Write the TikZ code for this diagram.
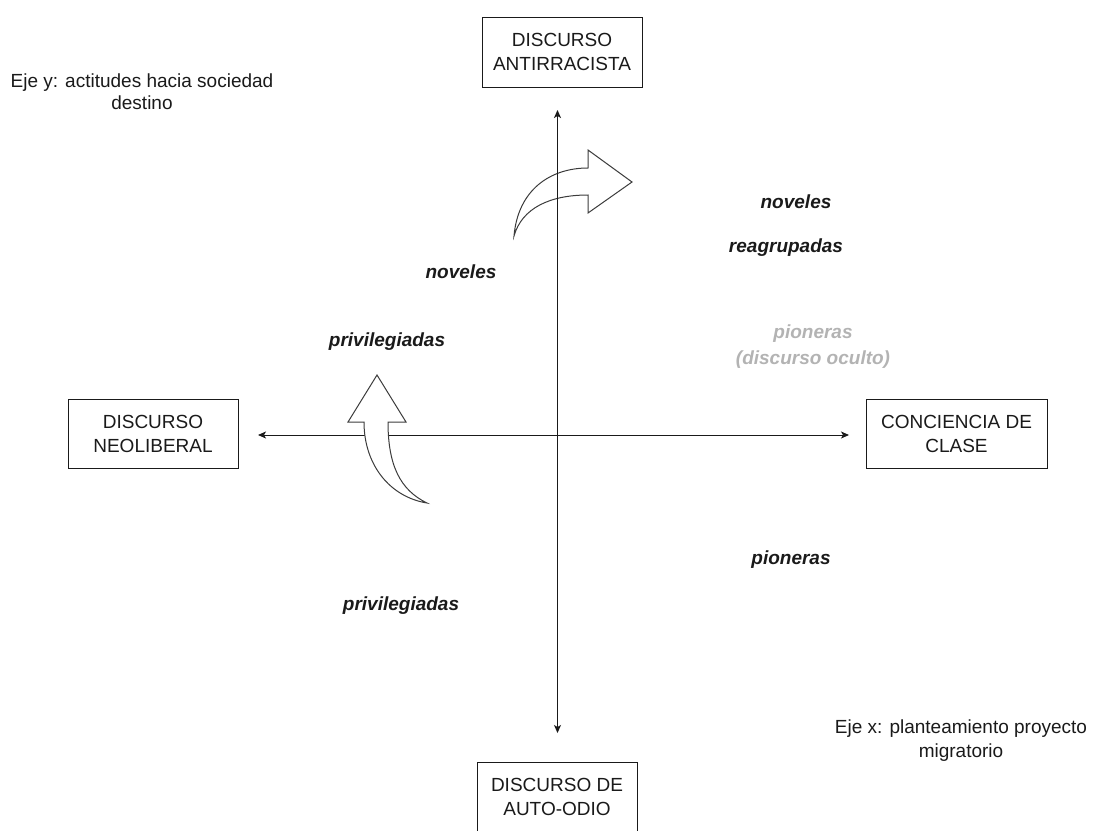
\documentclass[tikz,border=0pt]{standalone}
\usepackage{fontspec}
\setmainfont{Liberation Sans}
\usetikzlibrary{arrows.meta}
\definecolor{ink}{HTML}{1A1A1A}
\definecolor{muted}{HTML}{B3B3B3}
\begin{document}
\begin{tikzpicture}[x=1pt,y=-1pt,
  every node/.style={font=\fontsize{19}{24}\selectfont, text=ink, align=center, inner sep=0pt},
  pole/.style={draw=ink, line width=1pt},
  axis/.style={draw=ink, line width=1pt, {Stealth[length=8pt,width=7pt,inset=2pt]}-{Stealth[length=8pt,width=7pt,inset=2pt]}},
  group/.style={font=\fontsize{19}{26}\selectfont\bfseries\itshape},
  curvy/.style={draw=ink!85, fill=white, line width=1pt, line join=miter}]
\useasboundingbox (0,0) rectangle (1094,830);
\clip (0,0) rectangle (1094,830);

% the four poles
\node[pole, minimum width=160pt, minimum height=70pt] (antirr) at (562,52) {DISCURSO\\ANTIRRACISTA};
\node[pole, minimum width=170pt, minimum height=69pt] (neolib) at (153,433.5) {DISCURSO\\NEOLIBERAL};
\node[pole, minimum width=181pt, minimum height=69pt] (clase) at (956.5,433.5) {CONCIENCIA DE\\CLASE};
\node[pole, minimum width=160pt, minimum height=70pt] (odio) at (557,797) {DISCURSO DE\\AUTO-ODIO};

% curved arrow towards the upper right
\draw[curvy] (514,236) .. controls (518,190) and (550,168) .. (588,168)
  -- (588,150) -- (632,182) -- (588,213) -- (588,195)
  .. controls (550,195) and (522,208) .. (514,236) -- cycle;

% axes
\coordinate (ytop) at (557.5,110);
\coordinate (ybot) at (557.5,733);
\coordinate (xleft) at (258,435);
\coordinate (xright) at (849,435);
\draw[axis] (ytop) -- (ybot);
\draw[axis] (xleft) -- (xright);

% curved arrow pointing up
\draw[curvy] (427,503) .. controls (390,497) and (364,465) .. (364,422)
  -- (348,422) -- (377,375) -- (406,422) -- (388,422)
  .. controls (388,465) and (400,490) .. (427,503) -- cycle;

% axis captions
\node[font=\fontsize{19}{22}\selectfont] (ejey) at (142,92) {Eje y: actitudes hacia sociedad\\destino};
\node (ejex) at (961,740.5) {Eje x: planteamiento proyecto\\migratorio};

% groups
\node[group] (novelesR) at (796,202) {noveles};
\node[group] (reagrup) at (786,248) {reagrupadas};
\node[group] (novelesL) at (461,272) {noveles};
\node[group] (privA) at (387,342) {privilegiadas};
\node[group, text=muted] (pionerasH) at (813,347) {pioneras\\(discurso oculto)};
\node[group] (pionerasB) at (791,560) {pioneras};
\node[group] (privB) at (401,606) {privilegiadas};
\end{tikzpicture}
\end{document}
